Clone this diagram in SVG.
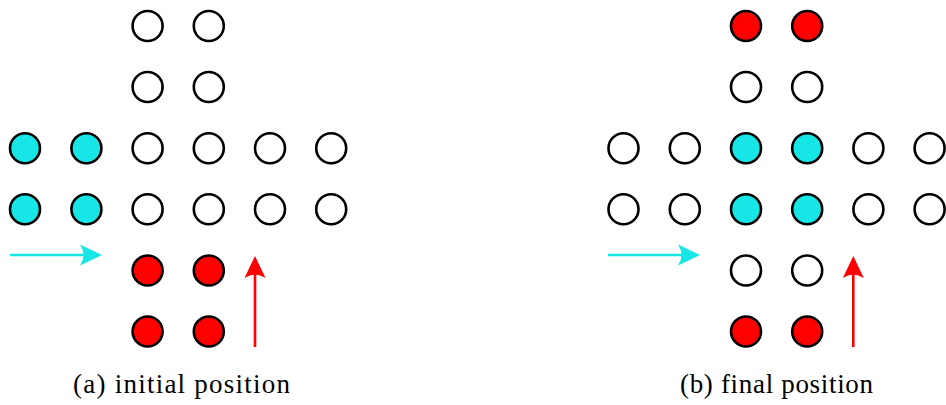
<svg xmlns="http://www.w3.org/2000/svg" width="946" height="405" viewBox="0 0 946 405">
<style>
.p{stroke:#000;stroke-width:2.6}
.e{fill:#fff}
.c{fill:#16e6e6}
.r{fill:#ff0000}
.ac{stroke:#16e6e6;stroke-width:2.6;fill:none}
.ar{stroke:#ff0000;stroke-width:2.6;fill:none}
.t{font-family:"Liberation Serif","Times New Roman",serif;font-size:27px;fill:#000}
</style>
<defs>
<circle id="dot" r="15"/>
</defs>
<rect width="946" height="405" fill="#fff"/>
<g id="boardA">
<g id="a-row1"><use href="#dot" x="147.6" y="26" class="p e"/><use href="#dot" x="208.8" y="26" class="p e"/></g>
<g id="a-row2"><use href="#dot" x="147.6" y="87" class="p e"/><use href="#dot" x="208.8" y="87" class="p e"/></g>
<g id="a-row3"><use href="#dot" x="25" y="148.3" class="p c"/><use href="#dot" x="86.4" y="148.3" class="p c"/><use href="#dot" x="147.6" y="148.3" class="p e"/><use href="#dot" x="208.8" y="148.3" class="p e"/><use href="#dot" x="270" y="148.3" class="p e"/><use href="#dot" x="331.2" y="148.3" class="p e"/></g>
<g id="a-row4"><use href="#dot" x="25" y="209.3" class="p c"/><use href="#dot" x="86.4" y="209.3" class="p c"/><use href="#dot" x="147.6" y="209.3" class="p e"/><use href="#dot" x="208.8" y="209.3" class="p e"/><use href="#dot" x="270" y="209.3" class="p e"/><use href="#dot" x="331.2" y="209.3" class="p e"/></g>
<g id="a-row5"><use href="#dot" x="147.6" y="270.5" class="p r"/><use href="#dot" x="208.8" y="270.5" class="p r"/></g>
<g id="a-row6"><use href="#dot" x="147.6" y="331.5" class="p r"/><use href="#dot" x="208.8" y="331.5" class="p r"/></g>
</g>
<g id="boardB">
<g id="b-row1"><use href="#dot" x="746" y="26" class="p r"/><use href="#dot" x="807.2" y="26" class="p r"/></g>
<g id="b-row2"><use href="#dot" x="746" y="87" class="p e"/><use href="#dot" x="807.2" y="87" class="p e"/></g>
<g id="b-row3"><use href="#dot" x="623.5" y="148.3" class="p e"/><use href="#dot" x="684.8" y="148.3" class="p e"/><use href="#dot" x="746" y="148.3" class="p c"/><use href="#dot" x="807.2" y="148.3" class="p c"/><use href="#dot" x="868.4" y="148.3" class="p e"/><use href="#dot" x="929.6" y="148.3" class="p e"/></g>
<g id="b-row4"><use href="#dot" x="623.5" y="209.3" class="p e"/><use href="#dot" x="684.8" y="209.3" class="p e"/><use href="#dot" x="746" y="209.3" class="p c"/><use href="#dot" x="807.2" y="209.3" class="p c"/><use href="#dot" x="868.4" y="209.3" class="p e"/><use href="#dot" x="929.6" y="209.3" class="p e"/></g>
<g id="b-row5"><use href="#dot" x="746" y="270.5" class="p e"/><use href="#dot" x="807.2" y="270.5" class="p e"/></g>
<g id="b-row6"><use href="#dot" x="746" y="331.5" class="p r"/><use href="#dot" x="807.2" y="331.5" class="p r"/></g>
</g>
<g id="connectors">
<line x1="10" y1="255" x2="92" y2="255" class="ac"/>
<path d="M102,255 L80,244.5 Q87,255 80,265.5 Z" fill="#16e6e6"/>
<line x1="255" y1="347" x2="255" y2="266" class="ar"/>
<path d="M255,256 L244.5,278 Q255,271 265.5,278 Z" fill="#ff0000"/>
<line x1="608" y1="255" x2="690" y2="255" class="ac"/>
<path d="M700,255 L678,244.5 Q685,255 678,265.5 Z" fill="#16e6e6"/>
<line x1="853.3" y1="347" x2="853.3" y2="266" class="ar"/>
<path d="M853.3,256 L842.8,278 Q853.3,271 863.8,278 Z" fill="#ff0000"/>
</g>
<text class="t" x="73" y="393" textLength="217" lengthAdjust="spacing">(a) initial position</text>
<text class="t" x="680" y="393" textLength="193" lengthAdjust="spacing">(b) final position</text>
</svg>
